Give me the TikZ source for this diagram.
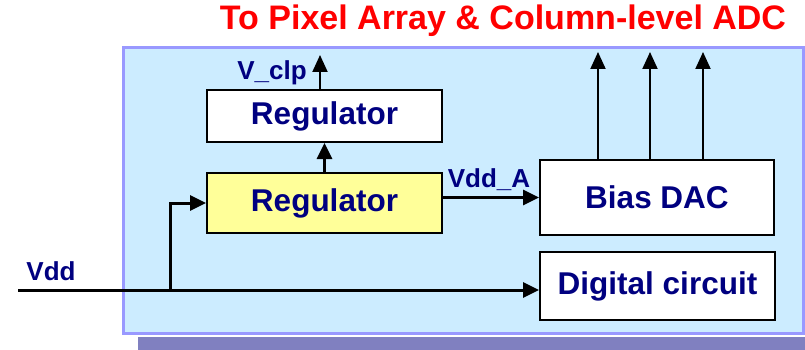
\documentclass[tikz,border=0pt]{standalone}
\usepackage{fontspec}
\setmainfont{Liberation Sans}
\usepackage{tikz}
\usetikzlibrary{arrows.meta}
\usepackage{xcolor}
\definecolor{chipblue}{RGB}{204, 236, 255}
\definecolor{chipedge}{RGB}{153, 153, 255}
\definecolor{shadowgray}{RGB}{128, 128, 192}
\definecolor{regyellow}{RGB}{255, 255, 153}
\definecolor{labelnavy}{RGB}{0, 0, 128}

\begin{document}
\begin{tikzpicture}[x=1pt, y=-1pt,
    block/.style={draw=black, line width=2pt, fill=white, text=labelnavy,
        font=\fontsize{31.5}{34}\selectfont\bfseries, inner sep=0pt},
    sig/.style={text=labelnavy, font=\fontsize{26}{28}\selectfont\bfseries, inner sep=0pt},
    wire/.style={line width=3pt, -{Triangle[length=16pt, width=15pt]}},
    bus/.style={line width=2pt, -{Triangle[length=17pt, width=15pt]}}]
    \useasboundingbox (0,0) rectangle (805,350);

    % Chip outline with shadow
    \fill[shadowgray] (138,337) rectangle (805,350);
    \draw[line width=3pt, chipedge, fill=chipblue] (123,48) rectangle (803,333);
    \node[text=red, font=\fontsize{34}{38}\selectfont\bfseries, inner sep=0pt] (title) at (503,21) {To Pixel Array \& Column-level ADC};

    % Regulators
    \node[block, minimum width=235pt, minimum height=52pt] (ureg) at (324.5,116) {Regulator};
    \node[block, fill=regyellow, minimum width=235pt, minimum height=60pt] (lreg) at (324.5,203) {Regulator};

    % Bias DAC and digital block
    \node[block, minimum width=234pt, minimum height=75pt] (dac) at (657,197.5) {Bias DAC};
    \node[block, minimum width=235pt, minimum height=68pt] (dig) at (657.5,286) {Digital circuit};

    % Supply input
    \coordinate (vddin) at (18,290);
    \coordinate (tap) at (170,290);
    \node[sig] (vddlbl) at (51,271) {Vdd};
    \draw[wire] (vddin) -- (vddin -| dig.west);
    \draw[wire] (tap) |- (lreg.west);

    % Regulated outputs
    \draw[wire] (lreg.north) -- (ureg.south);
    \coordinate (vclp) at (320,55);
    \draw[bus] (ureg.north -| vclp) -- (vclp);
    \node[sig] (vclplbl) at (272,73) {V\_clp};
    \draw[wire] (lreg.east |- dac.west) -- (dac.west);
    \node[sig] (vddalbl) at (489,180) {Vdd\_A};

    % Bias lines to the array
    \foreach \x/\n in {598/a, 650/b, 703/c} {
        \coordinate (col\n) at (\x,52);
        \draw[bus] (dac.north -| col\n) -- (col\n);
    }
\end{tikzpicture}
\end{document}
